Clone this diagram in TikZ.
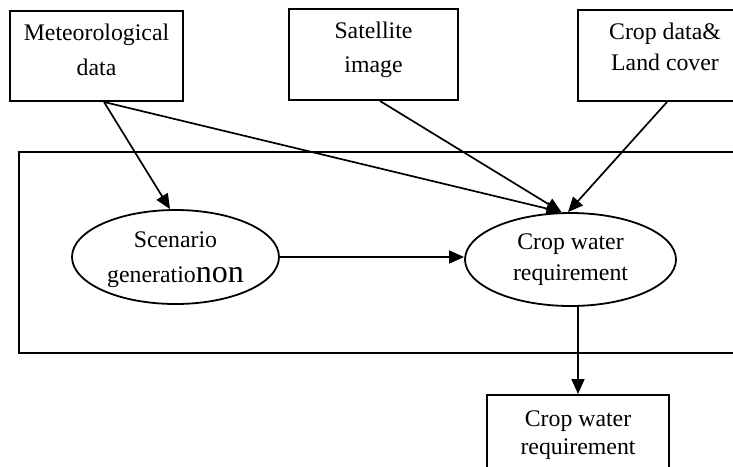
\documentclass[tikz,border=0pt]{standalone}
\usepackage{fontspec}
\setmainfont{Liberation Serif}
\usetikzlibrary{arrows.meta,shapes.geometric,calc}

\tikzset{
  txt/.style={font=\fontsize{23.8}{#1}\selectfont, align=center, inner sep=0pt},
  databox/.style={draw, line width=2pt, rectangle, txt=#1},
  procell/.style={draw, line width=1.8pt, ellipse, txt=#1},
  flow/.style={line width=1.7pt, -{Triangle[length=15pt,width=13pt]}},
}

\begin{document}
\begin{tikzpicture}[x=1pt,y=-1pt]
  \path[use as bounding box, clip] (0,0) rectangle (733,466);

  % input data sources
  \node[databox=35pt, minimum width=173pt, minimum height=90pt,
        text height=52pt, text depth=14pt] (met) at (96.5,56) {Meteorological\\data};
  \node[databox=34pt, minimum width=169pt, minimum height=91pt,
        text height=51pt, text depth=16pt] (sat) at (373.5,54.5) {Satellite\\image};
  \node[databox=31pt, minimum width=174pt, minimum height=91pt,
        text height=48pt, text depth=19pt] (crop) at (665,55.5) {Crop data\&\\Land cover};

  % model frame
  \draw[line width=2pt] (19,152) rectangle (770,353);

  % processing steps
  \node[procell=35pt, minimum width=207pt, minimum height=94pt,
        text height=52pt, text depth=2pt] (scen) at (175.5,257)
        {Scenario\\generatio{\fontsize{32}{35}\selectfont non}};
  \node[procell=31pt, minimum width=211pt, minimum height=93pt,
        text height=48pt, text depth=7pt] (cwr) at (570.5,259.5) {Crop water\\requirement};

  % output
  \node[databox=28pt, minimum width=182pt, minimum height=85pt,
        text height=45pt, text depth=12pt] (out) at (578,437.5) {Crop water\\requirement};

  % connectors
  \draw[flow] ([xshift=7.5pt]met.south) -- ([xshift=-5.5pt]scen.north);
  \draw[flow] ([xshift=7.5pt]met.south) -- ([xshift=-9pt]cwr.north);
  \draw[flow] ([xshift=6.5pt]sat.south) -- ([xshift=-9pt]cwr.north);
  \draw[flow] ([xshift=2pt]crop.south) -- ([xshift=-2.5pt]cwr.north);
  \draw[flow] (scen.east) -- (scen.east -| cwr.west);
  \draw[flow] (cwr.south -| out.north) -- (out.north);
\end{tikzpicture}
\end{document}
